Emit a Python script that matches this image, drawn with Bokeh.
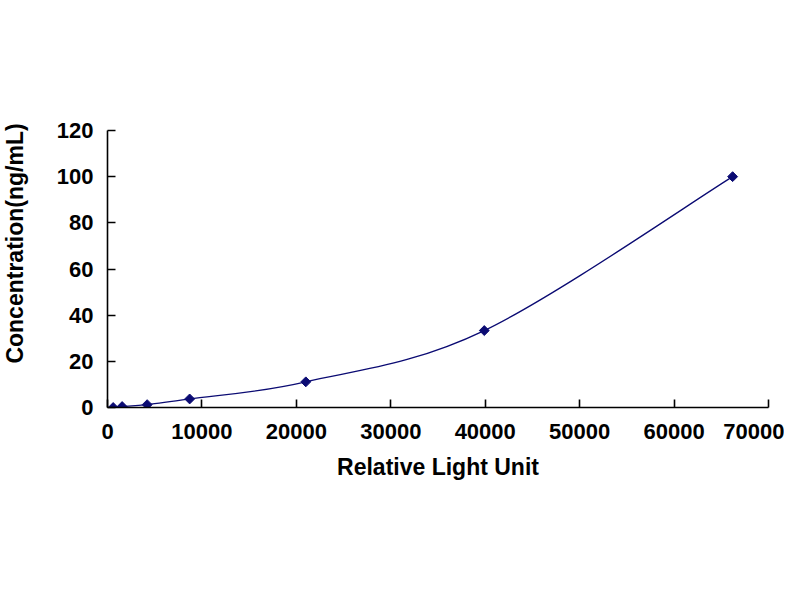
import numpy as np
from math import pi
from bokeh.plotting import figure
from bokeh.models import Range1d, Label, FixedTicker
from bokeh.embed import file_html
from bokeh.resources import INLINE

# Data
rlu = [600, 1550, 4200, 8700, 21000, 39900, 66200]
conc = [0.0, 0.41, 1.23, 3.70, 11.11, 33.33, 100.0]
x_ticks = [0, 10000, 20000, 30000, 40000, 50000, 60000, 70000]
y_ticks = [0, 20, 40, 60, 80, 100, 120]
x_label = "Relative Light Unit"
y_label = "Concentration(ng/mL)"

NAVY = "#0b0b73"
FONT = "Liberation Sans"

p = figure(width=784, height=584, output_backend="svg", toolbar_location=None,
           x_range=Range1d(0, 70000), y_range=Range1d(0, 120),
           min_border_left=107, min_border_right=16, min_border_top=130, min_border_bottom=177)
p.outline_line_color = None
p.grid.visible = False
p.background_fill_color = "white"
p.border_fill_color = "white"

# Smoothed line (Catmull-Rom style Bezier computed in screen-proportional space)
sx = 661 / 70000.0
sy = 277 / 120.0
px = np.array(rlu) * sx
py = np.array(conc) * sy
n = len(px)
x0, y0, x1, y1, cx0, cy0, cx1, cy1 = [], [], [], [], [], [], [], []
for i in range(n - 1):
    pm = (px[i - 1], py[i - 1]) if i > 0 else (px[i], py[i])
    pn = (px[i + 2], py[i + 2]) if i + 2 < n else (px[i + 1], py[i + 1])
    c0 = (px[i] + (px[i + 1] - pm[0]) / 6, py[i] + (py[i + 1] - pm[1]) / 6)
    c1 = (px[i + 1] - (pn[0] - px[i]) / 6, py[i + 1] - (pn[1] - py[i]) / 6)
    x0.append(rlu[i]); y0.append(conc[i])
    x1.append(rlu[i + 1]); y1.append(conc[i + 1])
    cx0.append(c0[0] / sx); cy0.append(c0[1] / sy)
    cx1.append(c1[0] / sx); cy1.append(c1[1] / sy)
p.bezier(x0=x0, y0=y0, x1=x1, y1=y1, cx0=cx0, cy0=cy0, cx1=cx1, cy1=cy1,
         line_color=NAVY, line_width=1.3)

p.scatter(rlu, conc, marker="square", angle=pi / 4, size=7, fill_color=NAVY, line_color=NAVY)

for ax in (p.xaxis[0], p.yaxis[0]):
    ax.axis_line_color = "black"
    ax.axis_line_width = 1.6
    ax.major_tick_line_color = "black"
    ax.major_tick_line_width = 1.6
    ax.major_tick_in = 8
    ax.major_tick_out = 0
    ax.minor_tick_line_color = None
    ax.major_label_text_font = FONT
    ax.major_label_text_font_style = "bold"
    ax.major_label_text_font_size = "22px"
    ax.major_label_text_color = "black"

p.xaxis.ticker = FixedTicker(ticks=x_ticks)
p.yaxis.ticker = FixedTicker(ticks=y_ticks)
p.xaxis.major_label_standoff = 16
p.yaxis.major_label_standoff = 14

p.xaxis.axis_label = x_label
p.xaxis.axis_label_text_font = FONT
p.xaxis.axis_label_text_font_style = "bold"
p.xaxis.axis_label_text_font_size = "23px"
p.xaxis.axis_label_text_color = "black"
p.xaxis.axis_label_standoff = 12

ylab = Label(x=-13, y=164, x_units="screen", y_units="screen", text=y_label, angle=pi / 2,
             text_align="center", text_baseline="middle", text_font=FONT,
             text_font_style="bold", text_font_size="23px", text_color="black")
p.add_layout(ylab, "left")

open("out.html", "w").write(file_html(p, INLINE))
